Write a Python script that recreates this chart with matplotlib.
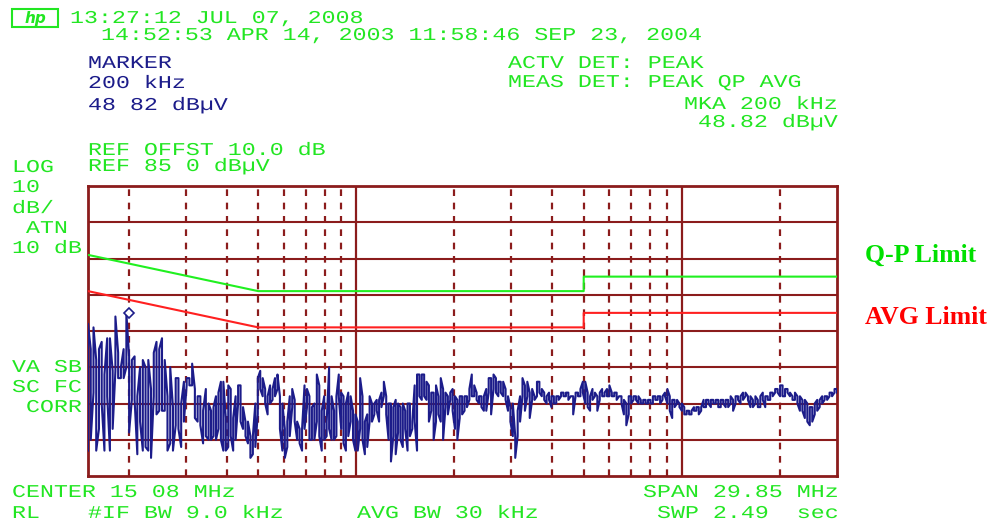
import matplotlib
matplotlib.use('Agg')
import matplotlib.pyplot as plt
from matplotlib.patches import Rectangle
from matplotlib.patheffects import AbstractPathEffect
from matplotlib.transforms import Affine2D
import numpy as np

W, H = 996, 523

# limit lines (CISPR class B), MHz / dBuV
qp_freq = [0.15, 0.5, 5.0, 5.0, 30.0]
qp_db = [66, 56, 56, 60, 60]
avg_freq = [0.15, 0.5, 5.0, 5.0, 30.0]
avg_db = [56, 46, 46, 50, 50]

# sweep, in six bands; each column has a max and a min
band_edges = [0.15, 0.352, 0.855, 2.08, 5.055, 12.29, 30.0]

band1_hi = [47, 40, 46, 37, 40, 42, 33, 43, 43, 34, 49, 39, 35, 40, 50, 38, 37, 38, 27, 35,
            37, 35, 37, 29, 39, 42, 40, 43, 37, 27, 35, 24, 32, 32, 25, 31, 32, 32, 36, 29,
            27, 27, 23, 29]
band1_lo = [12, 15, 28, 12, 18, 25, 12, 27, 12, 18, 34, 32, 32, 32, 35, 17, 26, 26, 11, 20,
            12, 13, 12, 10, 27, 22, 23, 23, 23, 12, 14, 12, 19, 18, 13, 20, 30, 30, 30, 21,
            20, 19, 14, 16]

band2_hi = [25, 23, 24, 27, 28, 31, 31, 21, 30, 29, 21, 27, 30, 30, 24, 20, 20, 16, 16, 25,
            32, 34, 32, 29, 27, 30, 29, 32, 33, 27, 25, 18, 20, 27, 29, 26, 20, 18, 18, 30,
            29, 27, 24, 25, 33, 30, 23, 27, 20, 35, 27]
band2_lo = [15, 15, 16, 15, 18, 15, 12, 12, 13, 16, 12, 15, 25, 20, 18, 16, 14, 10, 11, 13,
            22, 29, 27, 25, 22, 25, 26, 27, 29, 18, 12, 10, 13, 16, 24, 20, 15, 14, 12, 18,
            24, 15, 15, 15, 20, 16, 12, 15, 16, 18, 15]

band3_hi = [23, 27, 33, 28, 27, 25, 28, 27, 23, 22, 20, 32, 27, 20, 22, 27, 25, 25, 26, 26,
            28, 31, 27, 25, 25, 24, 26, 25, 24, 25, 23, 25, 25, 20, 30, 33, 33, 33, 33, 31,
            30, 28, 28, 30, 27, 32, 29, 28, 27, 28, 29, 27, 26]
band3_lo = [15, 16, 27, 18, 14, 12, 16, 20, 15, 12, 12, 18, 15, 11, 13, 20, 20, 22, 23, 20,
            24, 27, 22, 15, 9, 16, 11, 17, 15, 13, 18, 12, 16, 18, 20, 12, 27, 26, 27, 26,
            20, 23, 15, 20, 22, 20, 15, 24, 22, 26, 23, 18, 15]

band4_hi = [27, 27, 27, 27, 29, 33, 30, 28, 27, 27, 27, 29, 32, 32, 33, 32, 31, 31, 31, 29,
            27, 24, 25, 16, 23, 27, 32, 30, 31, 28, 29, 27, 31, 31, 29, 28, 27, 28, 27, 27,
            27, 27, 28, 28, 28, 28, 27, 27, 28, 28, 29, 31]
band4_lo = [21, 22, 23, 24, 26, 27, 27, 26, 25, 24, 23, 23, 28, 22, 29, 28, 27, 28, 27, 26,
            23, 20, 16, 10, 16, 20, 27, 23, 27, 21, 26, 26, 27, 28, 27, 26, 25, 26, 24, 25,
            25, 26, 27, 27, 27, 26, 27, 22, 27, 27, 27, 28]

band5_hi = [31, 28, 27, 29, 28, 27, 28, 29, 28, 29, 30, 28, 28, 28, 27, 27, 26, 25, 27, 27,
            27, 27, 27, 26, 26, 26, 26, 26, 27, 27, 27, 27, 27, 28, 29, 27, 26, 26, 26, 25,
            25, 24, 23, 23, 23, 24, 24, 24, 24, 26, 26, 26]
band5_lo = [25, 24, 23, 26, 27, 23, 26, 27, 27, 27, 27, 27, 27, 26, 27, 25, 22, 19, 22, 25,
            26, 26, 25, 25, 25, 25, 25, 25, 25, 26, 26, 25, 26, 27, 25, 23, 21, 24, 25, 24,
            23, 22, 22, 22, 22, 23, 23, 22, 23, 24, 24, 25]

band6_hi = [26, 26, 26, 26, 26, 26, 26, 26, 27, 26, 27, 27, 27, 28, 28, 27, 27, 26, 27, 26,
            27, 28, 27, 27, 28, 28, 29, 29, 30, 30, 29, 29, 28, 27, 28, 27, 27, 26, 26, 25,
            24, 24, 25, 26, 26, 27, 27, 27, 28, 28, 29, 29]
band6_lo = [24, 25, 25, 24, 24, 25, 24, 24, 25, 23, 25, 26, 25, 26, 27, 26, 24, 24, 25, 24,
            24, 26, 24, 26, 26, 27, 28, 28, 27, 27, 27, 28, 27, 26, 26, 25, 23, 23, 21, 20,
            19, 20, 22, 23, 24, 25, 26, 26, 27, 27, 28, 28]

marker_freq = 0.2
marker_db = 50

bands_hi = [band1_hi, band2_hi, band3_hi, band4_hi, band5_hi, band6_hi]
bands_lo = [band1_lo, band2_lo, band3_lo, band4_lo, band5_lo, band6_lo]

GREEN = '#22e622'
NAVY = '#1c1c8a'
GRID = '#8b1c1c'


class StretchX(AbstractPathEffect):
    # widen glyphs about the text origin, like the analyzer's wide character cells
    def __init__(self, sx):
        super().__init__()
        self.sx = sx

    def draw_path(self, renderer, gc, tpath, affine, rgbFace=None):
        x0, y0 = affine.transform((0, 0))
        a = affine + Affine2D().translate(-x0, -y0).scale(self.sx, 1).translate(x0, y0)
        renderer.draw_path(gc, tpath, a, rgbFace)


# build the zigzag: each column drawn as a vertical stroke, alternating direction
xs, ys = [], []
k = 0
for i, (hi, lo) in enumerate(zip(bands_hi, bands_lo)):
    last = i == len(bands_hi) - 1
    f = np.geomspace(band_edges[i], band_edges[i + 1], len(hi), endpoint=last)
    for fk, h, l in zip(f, hi, lo):
        xs += [fk, fk]
        ys += [l, h] if k % 2 == 0 else [h, l]
        k += 1

fig = plt.figure(figsize=(W / 100, H / 100), dpi=100)
ax = fig.add_axes([88 / W, 47 / H, 749 / W, 290 / H])
ax.set_xscale('log')
ax.set_xlim(0.15, 30)
ax.set_ylim(5, 85)
ax.set_xticks([])
ax.set_yticks([])
ax.minorticks_off()
for s in ax.spines.values():
    s.set_color(GRID)
    s.set_linewidth(2)

for y in range(15, 85, 10):
    ax.axhline(y, color=GRID, lw=1.5, zorder=1)
for f in [1, 10]:
    ax.axvline(f, color=GRID, lw=1.6, zorder=1)
minor = [0.2, 0.3, 0.4, 0.5, 0.6, 0.7, 0.8, 0.9, 2, 3, 4, 5, 6, 7, 8, 9, 20]
for f in minor:
    ax.axvline(f, color=GRID, lw=1.6, ls=(0, (3, 3)), zorder=1)

ax.plot(qp_freq, qp_db, color='#20f020', lw=1.5, zorder=3)
ax.plot(avg_freq, avg_db, color='#ff2020', lw=1.5, zorder=3)
ax.plot(xs, ys, color=NAVY, lw=1.5, zorder=4)
ax.plot([marker_freq], [marker_db], marker='D', ms=5, mfc='white', mec=NAVY, mew=1.2, zorder=5)

wide = [StretchX(1.29)]


def t(x, y, s, color=GREEN):
    # x = left edge, y = baseline, in screen pixels
    fig.text(x / W, 1 - y / H, s, color=color, ha='left', va='baseline',
             family='Liberation Mono', size=13, path_effects=wide)


# header
fig.patches.append(Rectangle((12 / W, 1 - 27 / H), 46 / W, 18 / H, transform=fig.transFigure,
                             fill=False, edgecolor=GREEN, lw=1.5))
fig.text(35 / W, 1 - 18 / H, 'hp', color=GREEN, ha='center', va='center', size=11,
         style='italic', weight='bold')
t(70, 23, '13:27:12 JUL 07, 2008')
t(101, 40, '14:52:53 APR 14, 2003 11:58:46 SEP 23, 2004')
t(88, 68, 'MARKER', NAVY)
t(88, 88, '200 kHz', NAVY)
t(88, 110, '48 82 dBµV', NAVY)
t(508, 68, 'ACTV DET: PEAK')
t(508, 87, 'MEAS DET: PEAK QP AVG')
t(684, 109, 'MKA 200 kHz')
t(698, 127, '48.82 dBµV')
t(88, 155, 'REF OFFST 10.0 dB')
t(12, 172, 'LOG')
t(88, 171, 'REF 85 0 dBµV')

# left column
t(12, 192, '10')
t(12, 213, 'dB/')
t(12, 233, ' ATN')
t(12, 253, '10 dB')
t(12, 372, 'VA SB')
t(12, 392, 'SC FC')
t(12, 412, ' CORR')

# footer
t(12, 497, 'CENTER 15 08 MHz')
t(643, 497, 'SPAN 29.85 MHz')
t(12, 518, 'RL')
t(88, 518, '#IF BW 9.0 kHz')
t(357, 518, 'AVG BW 30 kHz')
t(657, 518, 'SWP 2.49  sec')

# limit annotations
fig.text(865 / W, 1 - 255 / H, 'Q-P Limit', color='#00e000', ha='left', va='center',
         family='Liberation Serif', weight='bold', size=18.5)
fig.text(865 / W, 1 - 318 / H, 'AVG Limit', color='#ff0000', ha='left', va='center',
         family='Liberation Serif', weight='bold', size=18.5)

fig.savefig('out.png', dpi=100)
